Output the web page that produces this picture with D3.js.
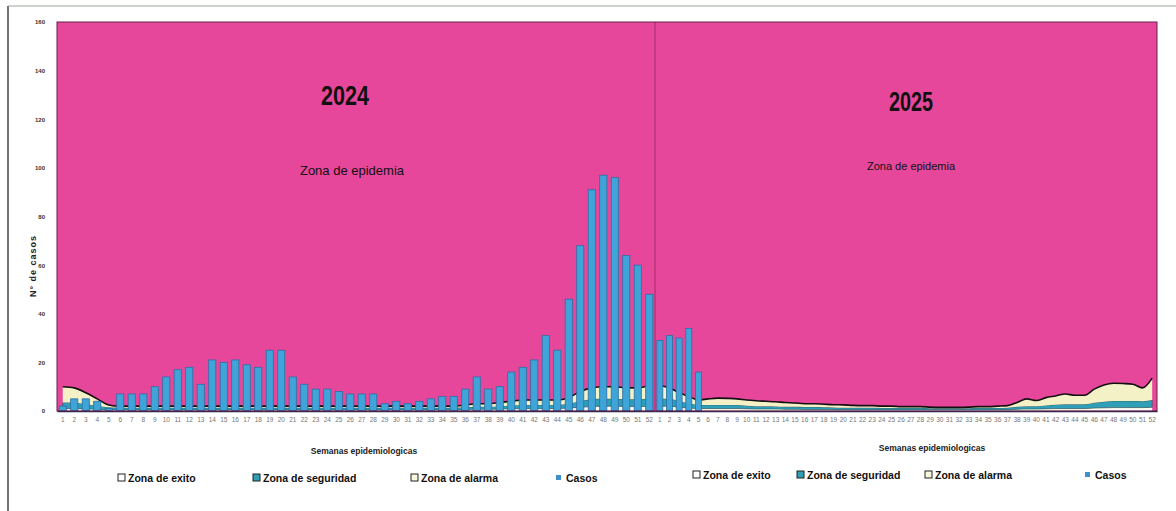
<!DOCTYPE html>
<html>
<head>
<meta charset="utf-8">
<script src="https://cdn.jsdelivr.net/npm/d3@7"></script>
<style>
  html, body { margin: 0; padding: 0; background: #ffffff; }
  svg { display: block; }
  text { font-family: "Liberation Sans Narrow", "Arial Narrow", "Liberation Sans", sans-serif; }
</style>
</head>
<body>
<svg id="chart" width="1176" height="511"></svg>
<script>
// ---------------- DATA ----------------
const weeks = d3.range(1, 53);
const yTicks = [0, 20, 40, 60, 80, 100, 120, 140, 160];

const casos2024 = [2,5,5,4,1,7,7,7,10,14,17,18,11,21,20,21,19,18,25,25,14,11,9,9,8,7,7,7,3,4,
                   3,4,5,6,6,9,14,9,10,16,18,21,31,25,46,68,91,97,96,64,60,48];
const casos2025 = [29,31,30,34,16];

const exito2024 = [1,1,0.8,0.7,0.5, 0.5,0.5,0.5,0.5,0.5,0.5,0.5,0.5,0.5,0.5,0.5,0.5,0.5,0.5,0.5,
                   0.5,0.5,0.5,0.5,0.5,0.5,0.5,0.5,0.5,0.5,0.5,0.5,0.5,0.5,0.5,
                   0.6,0.7,0.7,0.8,0.9,1,1,1,1,1.2,1.5,1.8,2,2,1.8,1.8,2];
const seguridad2024 = [2.5,2.5,2,1.5,1, 0.8,0.8,0.8,0.8,0.8,0.8,0.8,0.8,0.8,0.8,0.8,0.8,0.8,0.8,0.8,
                   0.8,0.8,0.8,0.8,0.8,0.8,0.8,0.8,0.8,0.8,0.8,0.8,0.8,0.8,0.8,
                   0.9,1,1,1.2,1.3,1.5,1.5,1.5,1.5,1.8,2.5,3,3,3,3,3,3.2];
const alarma2024 = [6.5,6,4.7,2.8,1, 0.7,0.7,0.7,0.7,0.7,0.7,0.7,0.7,0.7,0.7,0.7,0.7,0.7,0.7,0.7,
                   0.7,0.7,0.7,0.7,0.7,0.7,0.7,0.7,0.7,0.7,0.7,0.7,0.7,0.7,0.7,
                   1,1.3,1.3,1.5,1.8,2,2,2,2,2.5,4,4.7,5,5,4.7,4.7,5.3];

const exito2025 = [2,2,1.5,1.2,1, 1,1,1,1,0.9,0.8,0.8,0.8,0.7,0.7,0.6,0.6,0.6,0.5,0.5,
                   0.5,0.5,0.5,0.5,0.5,0.5,0.5,0.5,0.5,0.5,0.5,0.5,0.5,0.5,0.5,0.5,0.5,
                   0.7,0.8,0.8,0.9,1,1,1,1,1.2,1.3,1.4,1.4,1.4,1.4,1.5];
const seguridad2025 = [3,3,2.5,2,1.5, 1.5,1.5,1.5,1.5,1.3,1.2,1.2,1.1,1,1,1,1,0.9,0.9,0.8,
                   0.8,0.8,0.8,0.7,0.7,0.7,0.7,0.7,0.6,0.6,0.6,0.6,0.6,0.7,0.7,0.7,0.8,
                   1,1.2,1.2,1.4,1.6,1.8,1.8,1.8,2.2,2.5,2.7,2.7,2.7,2.6,3];
const alarma2025 = [5.5,4.5,3.5,2.8,2, 2.5,2.8,2.7,2.5,2.3,2.2,2,1.9,1.8,1.6,1.4,1.4,1.3,1.2,1.2,
                   1,0.9,0.9,0.8,0.8,0.6,0.6,0.6,0.5,0.4,0.4,0.4,0.5,0.6,0.6,0.8,0.9,
                   1.8,3,2.3,3.2,3.6,4.2,3.7,3.7,5.6,6.9,7.3,7.2,6.9,5.5,9];

const legendLabels = ["Zona de exito", "Zona de seguridad", "Zona de alarma", "Casos"];

// ---------------- LAYOUT ----------------
const svg = d3.select("#chart");
const pTop = 22, pBottom = 411, pLeft = 57, pMid = 655, pRight = 1157;
const y = d3.scaleLinear().domain([0, 160]).range([pBottom, pTop]);
const x24 = d3.scaleBand().domain(weeks).range([pLeft, pMid]);
const x25 = d3.scaleBand().domain(weeks).range([pMid, pRight]);

const colors = { pink: "#e6479a", exito: "#fbfbf4", seguridad: "#2f9fb8", alarma: "#f5f1c6", bar: "#3fa4d8", barStroke: "#2b6ea6" };

// outer frame
svg.append("line").attr("x1", 8).attr("x2", 8).attr("y1", 6).attr("y2", 511).attr("stroke", "#444").attr("stroke-width", 1.5);
svg.append("line").attr("x1", 8).attr("x2", 1176).attr("y1", 6).attr("y2", 6).attr("stroke", "#9aa89a").attr("stroke-width", 1);

// epidemic zone background
svg.append("rect").attr("x", pLeft).attr("y", pTop).attr("width", pRight - pLeft).attr("height", pBottom - pTop)
  .attr("fill", colors.pink);

function drawPanel(x, exito, seguridad, alarma, casos) {
  const table = weeks.map((w, i) => ({ week: w, exito: exito[i], seguridad: seguridad[i], alarma: alarma[i] }));
  const stack = d3.stack().keys(["exito", "seguridad", "alarma"])(table);
  const cx = d => x(d.data.week) + x.bandwidth() / 2;
  const area = d3.area().x(cx).y0(d => y(d[0])).y1(d => y(d[1])).curve(d3.curveMonotoneX);
  const g = svg.append("g");
  g.selectAll("path.zone").data(stack).join("path")
    .attr("class", "zone")
    .attr("d", area)
    .attr("fill", d => colors[d.key])
    .attr("stroke", d => d.key === "seguridad" ? "#1f5a4a" : "none")
    .attr("stroke-width", 0.6);
  const topLine = d3.line().x(cx).y(d => y(d[1])).curve(d3.curveMonotoneX);
  g.append("path").attr("d", topLine(stack[2])).attr("fill", "none").attr("stroke", "#111").attr("stroke-width", 1.6);

  const bw = x.bandwidth() * 0.62;
  g.selectAll("rect.bar").data(casos).join("rect")
    .attr("class", "bar")
    .attr("x", (d, i) => x(weeks[i]) + (x.bandwidth() - bw) / 2)
    .attr("width", bw)
    .attr("y", d => y(d))
    .attr("height", d => y(0) - y(d))
    .attr("fill", colors.bar)
    .attr("stroke", colors.barStroke)
    .attr("stroke-width", 0.8);

  // x axis labels
  const ax = d3.axisBottom(x).tickSize(0).tickPadding(6);
  const axg = svg.append("g").attr("transform", `translate(0,${pBottom})`).call(ax);
  axg.select(".domain").attr("stroke", "#1a2350").attr("stroke-width", 1.5);
  axg.selectAll("text").attr("font-size", 6.5).attr("fill", "#777");
}

drawPanel(x24, exito2024, seguridad2024, alarma2024, casos2024);
drawPanel(x25, exito2025, seguridad2025, alarma2025, casos2025);

// divider & border
svg.append("line").attr("x1", pMid).attr("x2", pMid).attr("y1", pTop).attr("y2", pBottom).attr("stroke", "#8a2a5e").attr("stroke-width", 0.8);
svg.append("rect").attr("x", pLeft).attr("y", pTop).attr("width", pRight - pLeft).attr("height", pBottom - pTop)
  .attr("fill", "none").attr("stroke", "#6a2048").attr("stroke-width", 1);

// y axis labels
const yax = d3.axisLeft(y).tickValues(yTicks).tickSize(0).tickPadding(12);
const yg = svg.append("g").attr("transform", `translate(${pLeft},0)`).call(yax);
yg.select(".domain").remove();
yg.selectAll("text").attr("font-size", 6).attr("font-weight", "bold").attr("fill", "#333");

svg.append("text").attr("transform", "translate(36,266) rotate(-90)").attr("text-anchor", "middle")
  .attr("font-size", 9).attr("font-weight", "bold").attr("fill", "#222").attr("letter-spacing", 1).text("N° de casos");

// titles
svg.append("text").attr("x", 345).attr("y", 105).attr("text-anchor", "middle").attr("font-size", 28).attr("font-weight", "bold").attr("fill", "#111")
  .attr("textLength", 48).attr("lengthAdjust", "spacingAndGlyphs").text("2024");
svg.append("text").attr("x", 911).attr("y", 111).attr("text-anchor", "middle").attr("font-size", 27).attr("font-weight", "bold").attr("fill", "#111")
  .attr("textLength", 44).attr("lengthAdjust", "spacingAndGlyphs").text("2025");
svg.append("text").attr("x", 352).attr("y", 175).attr("text-anchor", "middle").attr("font-size", 13).attr("fill", "#111").text("Zona de epidemia");
svg.append("text").attr("x", 911).attr("y", 170).attr("text-anchor", "middle").attr("font-size", 11).attr("fill", "#111").text("Zona de epidemia");

// x axis titles
svg.append("text").attr("x", 364).attr("y", 454).attr("text-anchor", "middle").attr("font-size", 8.5).attr("font-weight", "bold").attr("fill", "#222").text("Semanas epidemiologicas");
svg.append("text").attr("x", 932).attr("y", 451).attr("text-anchor", "middle").attr("font-size", 8.5).attr("font-weight", "bold").attr("fill", "#222").text("Semanas epidemiologicas");

// legends
const legFill = ["#ffffff", "#2f9fb8", "#f8f6dc", "#3f8fc8"];
function legend(xs, yy, fs) {
  const g = svg.append("g");
  legendLabels.forEach((lab, i) => {
    const s = i === 3 ? 5 : 7;
    g.append("rect").attr("x", xs[i]).attr("y", yy - 8 + (7 - s) / 2).attr("width", s).attr("height", s)
      .attr("fill", legFill[i]).attr("stroke", i === 3 ? "none" : "#222").attr("stroke-width", 1);
    g.append("text").attr("x", xs[i] + 10).attr("y", yy).attr("font-size", fs).attr("font-weight", "bold").attr("fill", "#111").text(lab);
  });
}
legend([118, 253, 411, 556], 482, 10.5);
legend([693, 797, 925, 1085], 479, 10.5);
</script>
</body>
</html>
